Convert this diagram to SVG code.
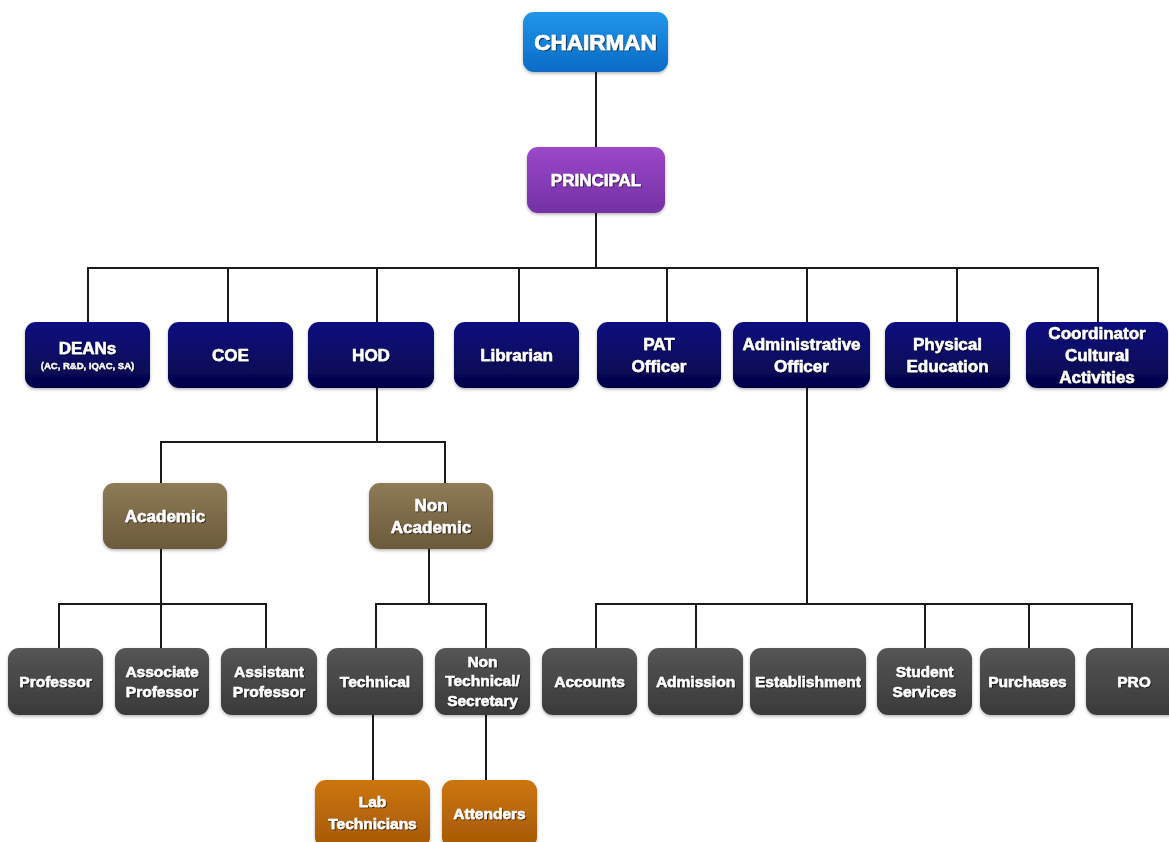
<svg xmlns="http://www.w3.org/2000/svg" width="1169" height="842" viewBox="0 0 1169 842">
<defs>
<linearGradient id="gBlue" x1="0" y1="0" x2="0" y2="1"><stop offset="0" stop-color="#2196ea"/><stop offset="1" stop-color="#0a6bc6"/></linearGradient>
<linearGradient id="gPurple" x1="0" y1="0" x2="0" y2="1"><stop offset="0" stop-color="#9c48c9"/><stop offset="1" stop-color="#7330a4"/></linearGradient>
<linearGradient id="gNavy" x1="0" y1="0" x2="0" y2="1"><stop offset="0" stop-color="#111180"/><stop offset="1" stop-color="#04044a"/></linearGradient>
<linearGradient id="gBrown" x1="0" y1="0" x2="0" y2="1"><stop offset="0" stop-color="#8e7b56"/><stop offset="1" stop-color="#6b5a3b"/></linearGradient>
<linearGradient id="gGray" x1="0" y1="0" x2="0" y2="1"><stop offset="0" stop-color="#555555"/><stop offset="1" stop-color="#3a3a3a"/></linearGradient>
<linearGradient id="gOrange" x1="0" y1="0" x2="0" y2="1"><stop offset="0" stop-color="#cc760f"/><stop offset="1" stop-color="#a55804"/></linearGradient>
<filter id="bs" x="-10%" y="-10%" width="120%" height="130%"><feDropShadow dx="0" dy="1.5" stdDeviation="1.5" flood-color="#000" flood-opacity="0.3"/></filter>
<filter id="ts" x="-10%" y="-30%" width="120%" height="160%"><feDropShadow dx="1" dy="1" stdDeviation="0.6" flood-color="#000" flood-opacity="0.6"/></filter>
</defs>
<style>
.box{filter:url(#bs);}
.blue{fill:url(#gBlue);}
.purple{fill:url(#gPurple);}
.navy{fill:url(#gNavy);}
.brown{fill:url(#gBrown);}
.gray{fill:url(#gGray);}
.orange{fill:url(#gOrange);}
text{font-family:"Liberation Sans",Arial,sans-serif;font-weight:bold;fill:#fff;stroke:#fff;stroke-width:0.5;text-anchor:middle;filter:url(#ts);}
.t17{font-size:17px;}
.t15{font-size:15.5px;}
.small{font-size:9.5px;stroke-width:0.3;}
.conn line{stroke:#1a1a1a;stroke-width:2;}
</style>
<rect width="1169" height="842" fill="#fff"/>
<g class="conn">
<line x1="596" y1="72" x2="596" y2="147"/>
<line x1="596" y1="213" x2="596" y2="268"/>
<line x1="87" y1="268" x2="1099" y2="268"/>
<line x1="88" y1="268" x2="88" y2="322"/>
<line x1="228" y1="268" x2="228" y2="322"/>
<line x1="377" y1="268" x2="377" y2="322"/>
<line x1="519" y1="268" x2="519" y2="322"/>
<line x1="667" y1="268" x2="667" y2="322"/>
<line x1="807" y1="268" x2="807" y2="322"/>
<line x1="957" y1="268" x2="957" y2="322"/>
<line x1="1098" y1="268" x2="1098" y2="322"/>
<line x1="377" y1="388" x2="377" y2="442"/>
<line x1="160" y1="442" x2="446" y2="442"/>
<line x1="161" y1="442" x2="161" y2="483"/>
<line x1="445" y1="442" x2="445" y2="483"/>
<line x1="161" y1="549" x2="161" y2="604"/>
<line x1="58" y1="604" x2="267" y2="604"/>
<line x1="59" y1="604" x2="59" y2="648"/>
<line x1="161" y1="604" x2="161" y2="648"/>
<line x1="266" y1="604" x2="266" y2="648"/>
<line x1="429" y1="549" x2="429" y2="604"/>
<line x1="375" y1="604" x2="487" y2="604"/>
<line x1="376" y1="604" x2="376" y2="648"/>
<line x1="486" y1="604" x2="486" y2="648"/>
<line x1="373" y1="715" x2="373" y2="780"/>
<line x1="486" y1="715" x2="486" y2="780"/>
<line x1="807" y1="388" x2="807" y2="604"/>
<line x1="595" y1="604" x2="1133" y2="604"/>
<line x1="596" y1="604" x2="596" y2="648"/>
<line x1="696" y1="604" x2="696" y2="648"/>
<line x1="925" y1="604" x2="925" y2="648"/>
<line x1="1029" y1="604" x2="1029" y2="648"/>
<line x1="1132" y1="604" x2="1132" y2="648"/>
</g>
<g id="chairman"><rect class="box blue" x="523" y="12" width="145" height="60" rx="11"/><text x="595.5" y="50" style="font-size:22.5px;stroke-width:0.7">CHAIRMAN</text></g>
<g id="principal"><rect class="box purple" x="527" y="147" width="138" height="66" rx="11"/><text class="t17" x="596" y="186">PRINCIPAL</text></g>
<g id="deans"><rect class="box navy" x="25" y="322" width="125" height="66" rx="11"/><text class="t17" x="87.5" y="354">DEANs</text><text class="small" x="87.5" y="369">(AC, R&amp;D, IQAC, SA)</text></g>
<g id="coe"><rect class="box navy" x="168" y="322" width="125" height="66" rx="11"/><text class="t17" x="230.5" y="361">COE</text></g>
<g id="hod"><rect class="box navy" x="308" y="322" width="126" height="66" rx="11"/><text class="t17" x="371" y="361">HOD</text></g>
<g id="librarian"><rect class="box navy" x="454" y="322" width="125" height="66" rx="11"/><text class="t17" x="516.5" y="361">Librarian</text></g>
<g id="pat"><rect class="box navy" x="597" y="322" width="124" height="66" rx="11"/><text class="t17" x="659" y="350">PAT</text><text class="t17" x="659" y="372">Officer</text></g>
<g id="admin"><rect class="box navy" x="733" y="322" width="137" height="66" rx="11"/><text class="t17" x="801.5" y="350">Administrative</text><text class="t17" x="801.5" y="372">Officer</text></g>
<g id="physical"><rect class="box navy" x="885" y="322" width="125" height="66" rx="11"/><text class="t17" x="947.5" y="350">Physical</text><text class="t17" x="947.5" y="372">Education</text></g>
<g id="coordinator"><rect class="box navy" x="1026" y="322" width="142" height="66" rx="11"/><text class="t17" x="1097" y="339">Coordinator</text><text class="t17" x="1097" y="361">Cultural</text><text class="t17" x="1097" y="383">Activities</text></g>
<g id="academic"><rect class="box brown" x="103" y="483" width="124" height="66" rx="11"/><text class="t17" x="165" y="522">Academic</text></g>
<g id="nonacademic"><rect class="box brown" x="369" y="483" width="124" height="66" rx="11"/><text class="t17" x="431" y="511">Non</text><text class="t17" x="431" y="533">Academic</text></g>
<g id="professor"><rect class="box gray" x="8" y="648" width="95" height="67" rx="11"/><text class="t15" x="55.5" y="687">Professor</text></g>
<g id="associate"><rect class="box gray" x="115" y="648" width="94" height="67" rx="11"/><text class="t15" x="162" y="677">Associate</text><text class="t15" x="162" y="697">Professor</text></g>
<g id="assistant"><rect class="box gray" x="221" y="648" width="96" height="67" rx="11"/><text class="t15" x="269" y="677">Assistant</text><text class="t15" x="269" y="697">Professor</text></g>
<g id="technical"><rect class="box gray" x="327" y="648" width="96" height="67" rx="11"/><text class="t15" x="375" y="687">Technical</text></g>
<g id="nontechnical"><rect class="box gray" x="435" y="648" width="95" height="67" rx="11"/><text class="t15" x="482.5" y="667">Non</text><text class="t15" x="482.5" y="686">Technical/</text><text class="t15" x="482.5" y="706">Secretary</text></g>
<g id="labtech"><rect class="box orange" x="315" y="780" width="115" height="68" rx="11"/><text class="t15" x="372.5" y="807">Lab</text><text class="t15" x="372.5" y="829">Technicians</text></g>
<g id="attenders"><rect class="box orange" x="442" y="780" width="95" height="68" rx="11"/><text class="t15" x="489.5" y="819">Attenders</text></g>
<g id="accounts"><rect class="box gray" x="542" y="648" width="95" height="67" rx="11"/><text class="t15" x="589.5" y="687">Accounts</text></g>
<g id="admission"><rect class="box gray" x="648" y="648" width="95" height="67" rx="11"/><text class="t15" x="695.5" y="687">Admission</text></g>
<g id="establishment"><rect class="box gray" x="750" y="648" width="116" height="67" rx="11"/><text class="t15" x="808" y="687">Establishment</text></g>
<g id="studentservices"><rect class="box gray" x="877" y="648" width="95" height="67" rx="11"/><text class="t15" x="924.5" y="677">Student</text><text class="t15" x="924.5" y="697">Services</text></g>
<g id="purchases"><rect class="box gray" x="980" y="648" width="95" height="67" rx="11"/><text class="t15" x="1027.5" y="687">Purchases</text></g>
<g id="pro"><rect class="box gray" x="1086" y="648" width="96" height="67" rx="11"/><text class="t15" x="1134" y="687">PRO</text></g>
</svg>
